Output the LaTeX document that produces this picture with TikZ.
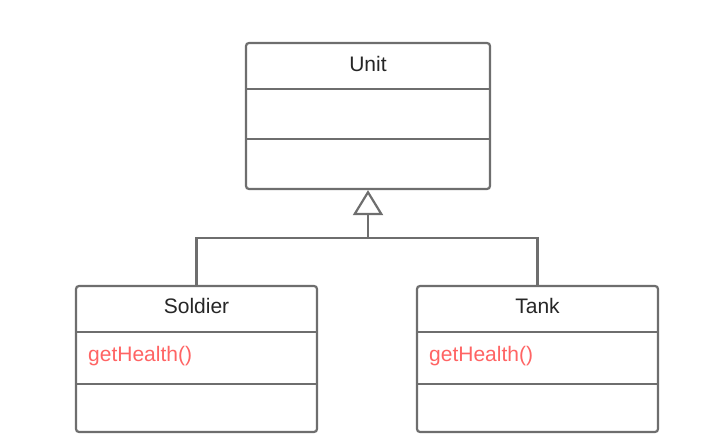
\documentclass[tikz,border=0pt]{standalone}
\usepackage{fontspec}
\setmainfont{Liberation Sans}
\usetikzlibrary{arrows.meta}
\definecolor{linegray}{RGB}{110,110,110}
\definecolor{methred}{RGB}{255,100,100}
\begin{document}
\begin{tikzpicture}[x=1pt,y=-1pt,
  classbox/.style={draw=linegray,line width=2.2pt,rounded corners=3pt,fill=white,
    minimum width=#1,minimum height=146pt,inner sep=0pt},
  title/.style={font=\fontsize{21}{23}\selectfont,text=black!85,inner sep=0pt},
  meth/.style={font=\fontsize{21}{23}\selectfont,text=methred,inner sep=0pt,anchor=west},
  divider/.style={draw=linegray,line width=2.2pt},
  conn/.style={draw=linegray,line width=2.2pt}]
\useasboundingbox (0,0) rectangle (702,446);
% Unit
\node[classbox=244pt] (unit) at (368,116) {};
\node[title] (unitT) at (368,64) {Unit};
\draw[divider] (246,89) -- (490,89);
\draw[divider] (246,139) -- (490,139);
% Soldier
\node[classbox=241pt] (soldier) at (196.5,359) {};
\node[title] (soldierT) at (196.5,306) {Soldier};
\node[meth] (soldierM) at (88,356) {getHealth()};
\draw[divider] (76,332) -- (317,332);
\draw[divider] (76,384) -- (317,384);
% Tank
\node[classbox=241pt] (tank) at (537.5,359) {};
\node[title] (tankT) at (537.5,306) {Tank};
\node[meth] (tankM) at (429,356) {getHealth()};
\draw[divider] (417,332) -- (658,332);
\draw[divider] (417,384) -- (658,384);
% connectors
\coordinate (j) at (368,238);
\draw[conn] (soldier.north) |- (j);
\draw[conn] (tank.north) |- (j);
\draw[conn,-{Triangle[open,width=30pt,length=25pt,line width=2.2pt]}] (j) -- (unit.south);
\end{tikzpicture}
\end{document}
